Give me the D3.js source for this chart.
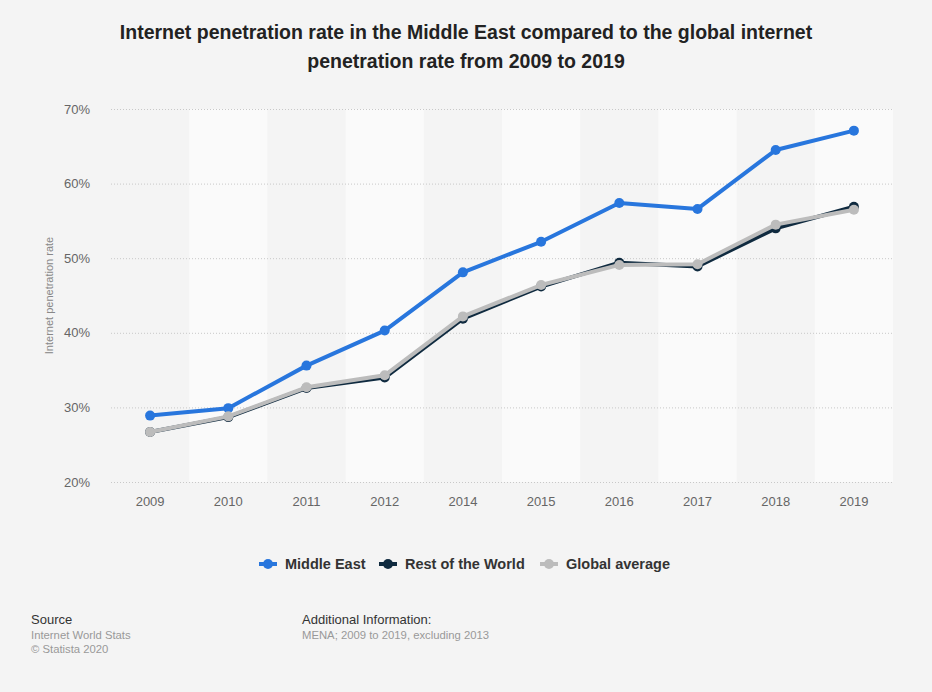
<!DOCTYPE html>
<html>
<head>
<meta charset="utf-8">
<script src="https://cdn.jsdelivr.net/npm/d3@7"></script>
<style>
  body { margin: 0; background: #f4f4f4; font-family: "Liberation Sans", Arial, sans-serif; }
  svg { display: block; }
</style>
</head>
<body>
<script>
// Data
let years = ["2009", "2010", "2011", "2012", "2014", "2015", "2016", "2017", "2018", "2019"];
let middleEast = [28.9, 29.9, 35.6, 40.3, 48.1, 52.2, 57.4, 56.6, 64.5, 67.1];
let restOfWorld = [26.7, 28.7, 32.6, 34.0, 41.9, 46.2, 49.4, 48.9, 54.0, 56.9];
let globalAverage = [26.7, 28.8, 32.7, 34.3, 42.2, 46.4, 49.1, 49.2, 54.5, 56.5];
let yTicks = [20, 30, 40, 50, 60, 70];

let series = [
    { name: "Middle East", values: middleEast, color: "#2876dd" },
    { name: "Rest of the World", values: restOfWorld, color: "#0f2a3f" },
    { name: "Global average", values: globalAverage, color: "#bcbcbc" }
];

let width = 932, height = 692;
let margin = { top: 109, right: 39, bottom: 210, left: 111 };

let svg = d3.select("body")
    .append("svg")
    .attr("width", width)
    .attr("height", height);

svg.append("rect")
    .attr("width", width)
    .attr("height", height)
    .attr("fill", "#f4f4f4");

// Scales
let x = d3.scaleBand(years, [margin.left, width - margin.right]);
let y = d3.scaleLinear([20, 70], [height - margin.bottom, margin.top]);

// Title
let title = svg.append("text")
    .attr("x", width / 2)
    .attr("text-anchor", "middle")
    .style("font-size", "19.5px")
    .style("font-weight", "bold")
    .attr("fill", "#222");
title.append("tspan").attr("x", width / 2).attr("y", 39)
    .text("Internet penetration rate in the Middle East compared to the global internet");
title.append("tspan").attr("x", width / 2).attr("y", 68)
    .text("penetration rate from 2009 to 2019");

// Alternating column bands
svg.append("g")
    .selectAll("rect")
    .data(years.filter((d, i) => i % 2 == 1))
    .enter()
    .append("rect")
    .attr("x", d => x(d))
    .attr("width", x.bandwidth())
    .attr("y", y(70))
    .attr("height", y(20) - y(70))
    .attr("fill", "#fafafa");

// Gridlines
svg.append("g")
    .selectAll("line")
    .data(yTicks)
    .enter()
    .append("line")
    .attr("x1", margin.left)
    .attr("x2", width - margin.right)
    .attr("y1", d => y(d) + 0.5)
    .attr("y2", d => y(d) + 0.5)
    .attr("stroke", "#c8c8c8")
    .attr("stroke-dasharray", "1,2");

// Y axis
let yAxis = svg.append("g")
    .attr("transform", `translate(${margin.left - 18},0)`)
    .call(d3.axisLeft(y).tickValues(yTicks).tickSize(0).tickFormat(d => d + "%"));
yAxis.select(".domain").remove();
yAxis.selectAll("text")
    .style("font-size", "13px")
    .style("font-family", "Liberation Sans, Arial, sans-serif")
    .attr("fill", "#666");

svg.append("text")
    .attr("transform", `translate(53,${y(45)}) rotate(-90)`)
    .attr("text-anchor", "middle")
    .style("font-size", "11px")
    .attr("fill", "#888")
    .text("Internet penetration rate");

// X axis
let xAxis = svg.append("g")
    .attr("transform", `translate(0,${y(20) + 12})`)
    .call(d3.axisBottom(x).tickSize(0));
xAxis.select(".domain").remove();
xAxis.selectAll("text")
    .style("font-size", "13px")
    .style("font-family", "Liberation Sans, Arial, sans-serif")
    .attr("fill", "#666");

// Lines
let line = d3.line()
    .x((d, i) => x(years[i]) + x.bandwidth() / 2)
    .y(d => y(d));

let groups = svg.append("g")
    .selectAll("g")
    .data(series)
    .enter()
    .append("g");

groups.append("path")
    .attr("d", d => line(d.values))
    .attr("fill", "none")
    .attr("stroke", d => d.color)
    .attr("stroke-width", 4)
    .attr("stroke-linejoin", "round");

groups.selectAll("circle")
    .data(d => d.values.map((v, i) => ({ v, i, color: d.color })))
    .enter()
    .append("circle")
    .attr("cx", d => x(years[d.i]) + x.bandwidth() / 2)
    .attr("cy", d => y(d.v))
    .attr("r", 5)
    .attr("fill", d => d.color);

// Legend
let legendX = [259, 379, 540];
let legend = svg.append("g")
    .selectAll("g")
    .data(series)
    .enter()
    .append("g")
    .attr("transform", (d, i) => `translate(${legendX[i]},564)`);

legend.append("line")
    .attr("x1", 0)
    .attr("x2", 18)
    .attr("stroke", d => d.color)
    .attr("stroke-width", 4);
legend.append("circle")
    .attr("cx", 9)
    .attr("r", 5)
    .attr("fill", d => d.color);
legend.append("text")
    .attr("x", 26)
    .attr("dy", "0.35em")
    .style("font-size", "14.5px")
    .style("font-weight", "bold")
    .attr("fill", "#333")
    .text(d => d.name);

// Footer
let footer = svg.append("g");
footer.append("text").attr("x", 31).attr("y", 624).style("font-size", "13px").attr("fill", "#333").text("Source");
footer.append("text").attr("x", 31).attr("y", 639).style("font-size", "11.3px").attr("fill", "#999").text("Internet World Stats");
footer.append("text").attr("x", 31).attr("y", 653).style("font-size", "11.3px").attr("fill", "#999").text("© Statista 2020");
footer.append("text").attr("x", 302).attr("y", 624).style("font-size", "13px").attr("fill", "#333").text("Additional Information:");
footer.append("text").attr("x", 302).attr("y", 639).style("font-size", "11.3px").attr("fill", "#999").text("MENA; 2009 to 2019, excluding 2013");
</script>
</body>
</html>
